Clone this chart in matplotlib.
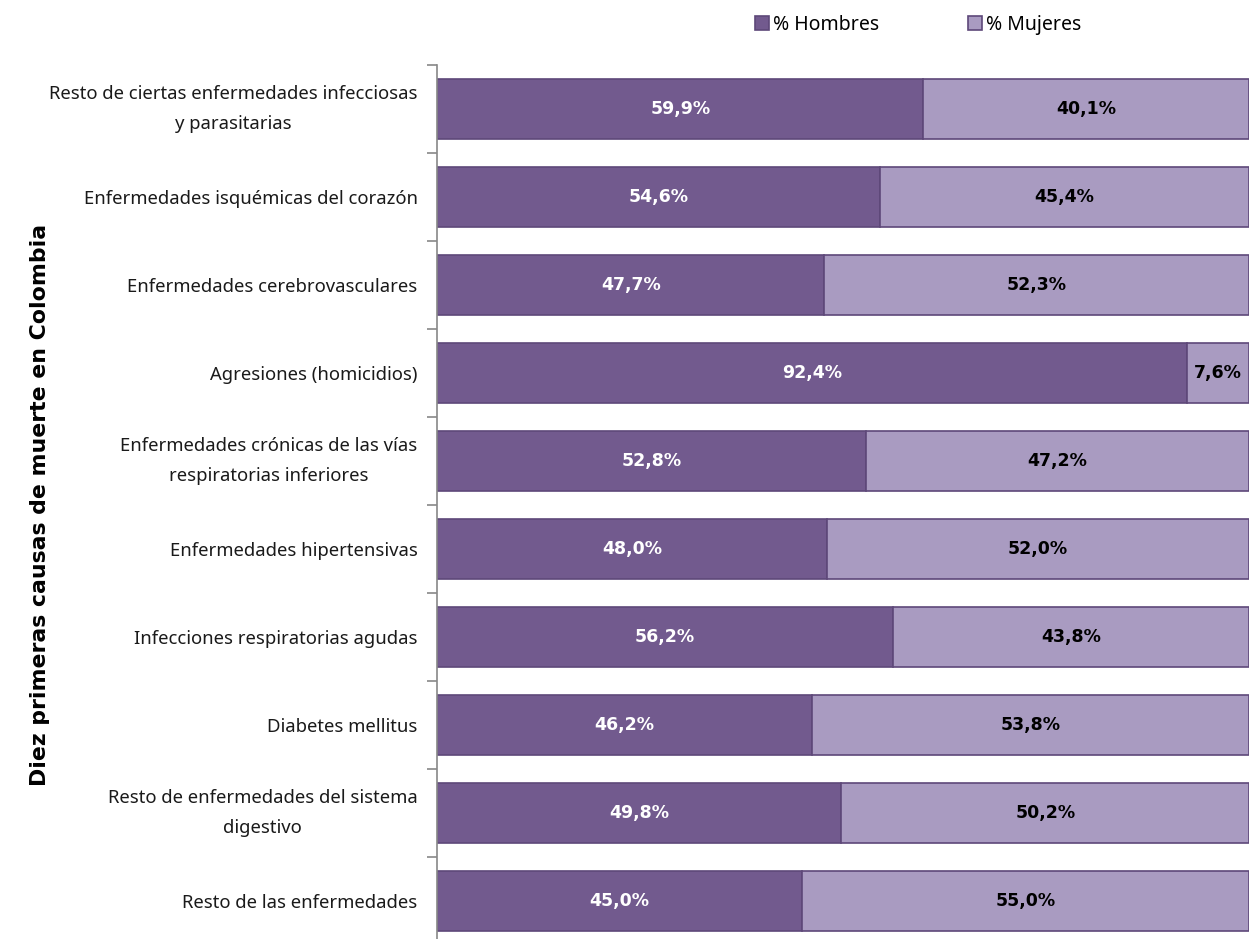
import numpy as np
import matplotlib
matplotlib.use('Agg')
import matplotlib.pyplot as plt

plt.rcParams['font.family'] = ['Noto Sans', 'DejaVu Sans']
negrita = ['DejaVu Sans']

# datos
causas = [
    'Resto de ciertas enfermedades infecciosas\ny parasitarias',
    'Enfermedades isquémicas del corazón',
    'Enfermedades cerebrovasculares',
    'Agresiones (homicidios)',
    'Enfermedades crónicas de las vías\nrespiratorias inferiores',
    'Enfermedades hipertensivas',
    'Infecciones respiratorias agudas',
    'Diabetes mellitus',
    'Resto de enfermedades del sistema\ndigestivo',
    'Resto de las enfermedades',
]
hombres = [59.9, 54.6, 47.7, 92.4, 52.8, 48.0, 56.2, 46.2, 49.8, 45.0]
mujeres = [40.1, 45.4, 52.3, 7.6, 47.2, 52.0, 43.8, 53.8, 50.2, 55.0]

col_h = '#725A8E'
col_m = '#A99BC1'
borde = '#5E4879'

fig = plt.figure(figsize=(12.49, 9.39), dpi=100)
ax = fig.add_axes([437 / 1249, -6 / 939, 1 - 437 / 1249, 880 / 939])

y = np.arange(len(causas))
ax.barh(y, hombres, height=0.68, color=col_h, edgecolor=borde, linewidth=1.2, label='% Hombres')
ax.barh(y, mujeres, left=hombres, height=0.68, color=col_m, edgecolor=borde, linewidth=1.2, label='% Mujeres')

for i, (h, m) in enumerate(zip(hombres, mujeres)):
    ax.text(h / 2, i, f'{h:.1f}%'.replace('.', ','), ha='center', va='center',
            color='white', fontsize=12.5, fontweight='bold', family=negrita)
    ax.text(h + m / 2, i, f'{m:.1f}%'.replace('.', ','), ha='center', va='center',
            color='black', fontsize=12.5, fontweight='bold', family=negrita)

ax.set_xlim(0, 100)
ax.set_ylim(len(causas) - 0.5, -0.5)
ax.set_yticks(y, labels=causas, fontsize=13.3, color='#1a1a1a')
ax.tick_params(axis='y', which='major', length=0, pad=14)
ax.set_yticks(np.arange(-0.5, len(causas) - 0.4, 1), minor=True)
ax.tick_params(axis='y', which='minor', length=7, color='#888888', width=1.2)
ax.set_xticks([])
for s in ['top', 'right', 'bottom']:
    ax.spines[s].set_visible(False)
ax.spines['left'].set_color('#888888')
ax.spines['left'].set_linewidth(1.2)

for t in ax.get_yticklabels():
    t.set_multialignment('center')
    if '\n' in t.get_text():
        t.set_linespacing(1.9)
        t.set_verticalalignment('center')

fig.text(40 / 1249, 1 - 505 / 939, 'Diez primeras causas de muerte en Colombia',
         rotation=90, ha='center', va='center', fontsize=15.8, fontweight='bold', family=negrita)

leg = fig.legend(loc='center', bbox_to_anchor=(918 / 1249, 1 - 25 / 939), ncol=2, frameon=False,
                 fontsize=14, handlelength=0.7, handleheight=0.7, handletextpad=0.2,
                 columnspacing=4.6)

fig.savefig('out.png', dpi=100)
